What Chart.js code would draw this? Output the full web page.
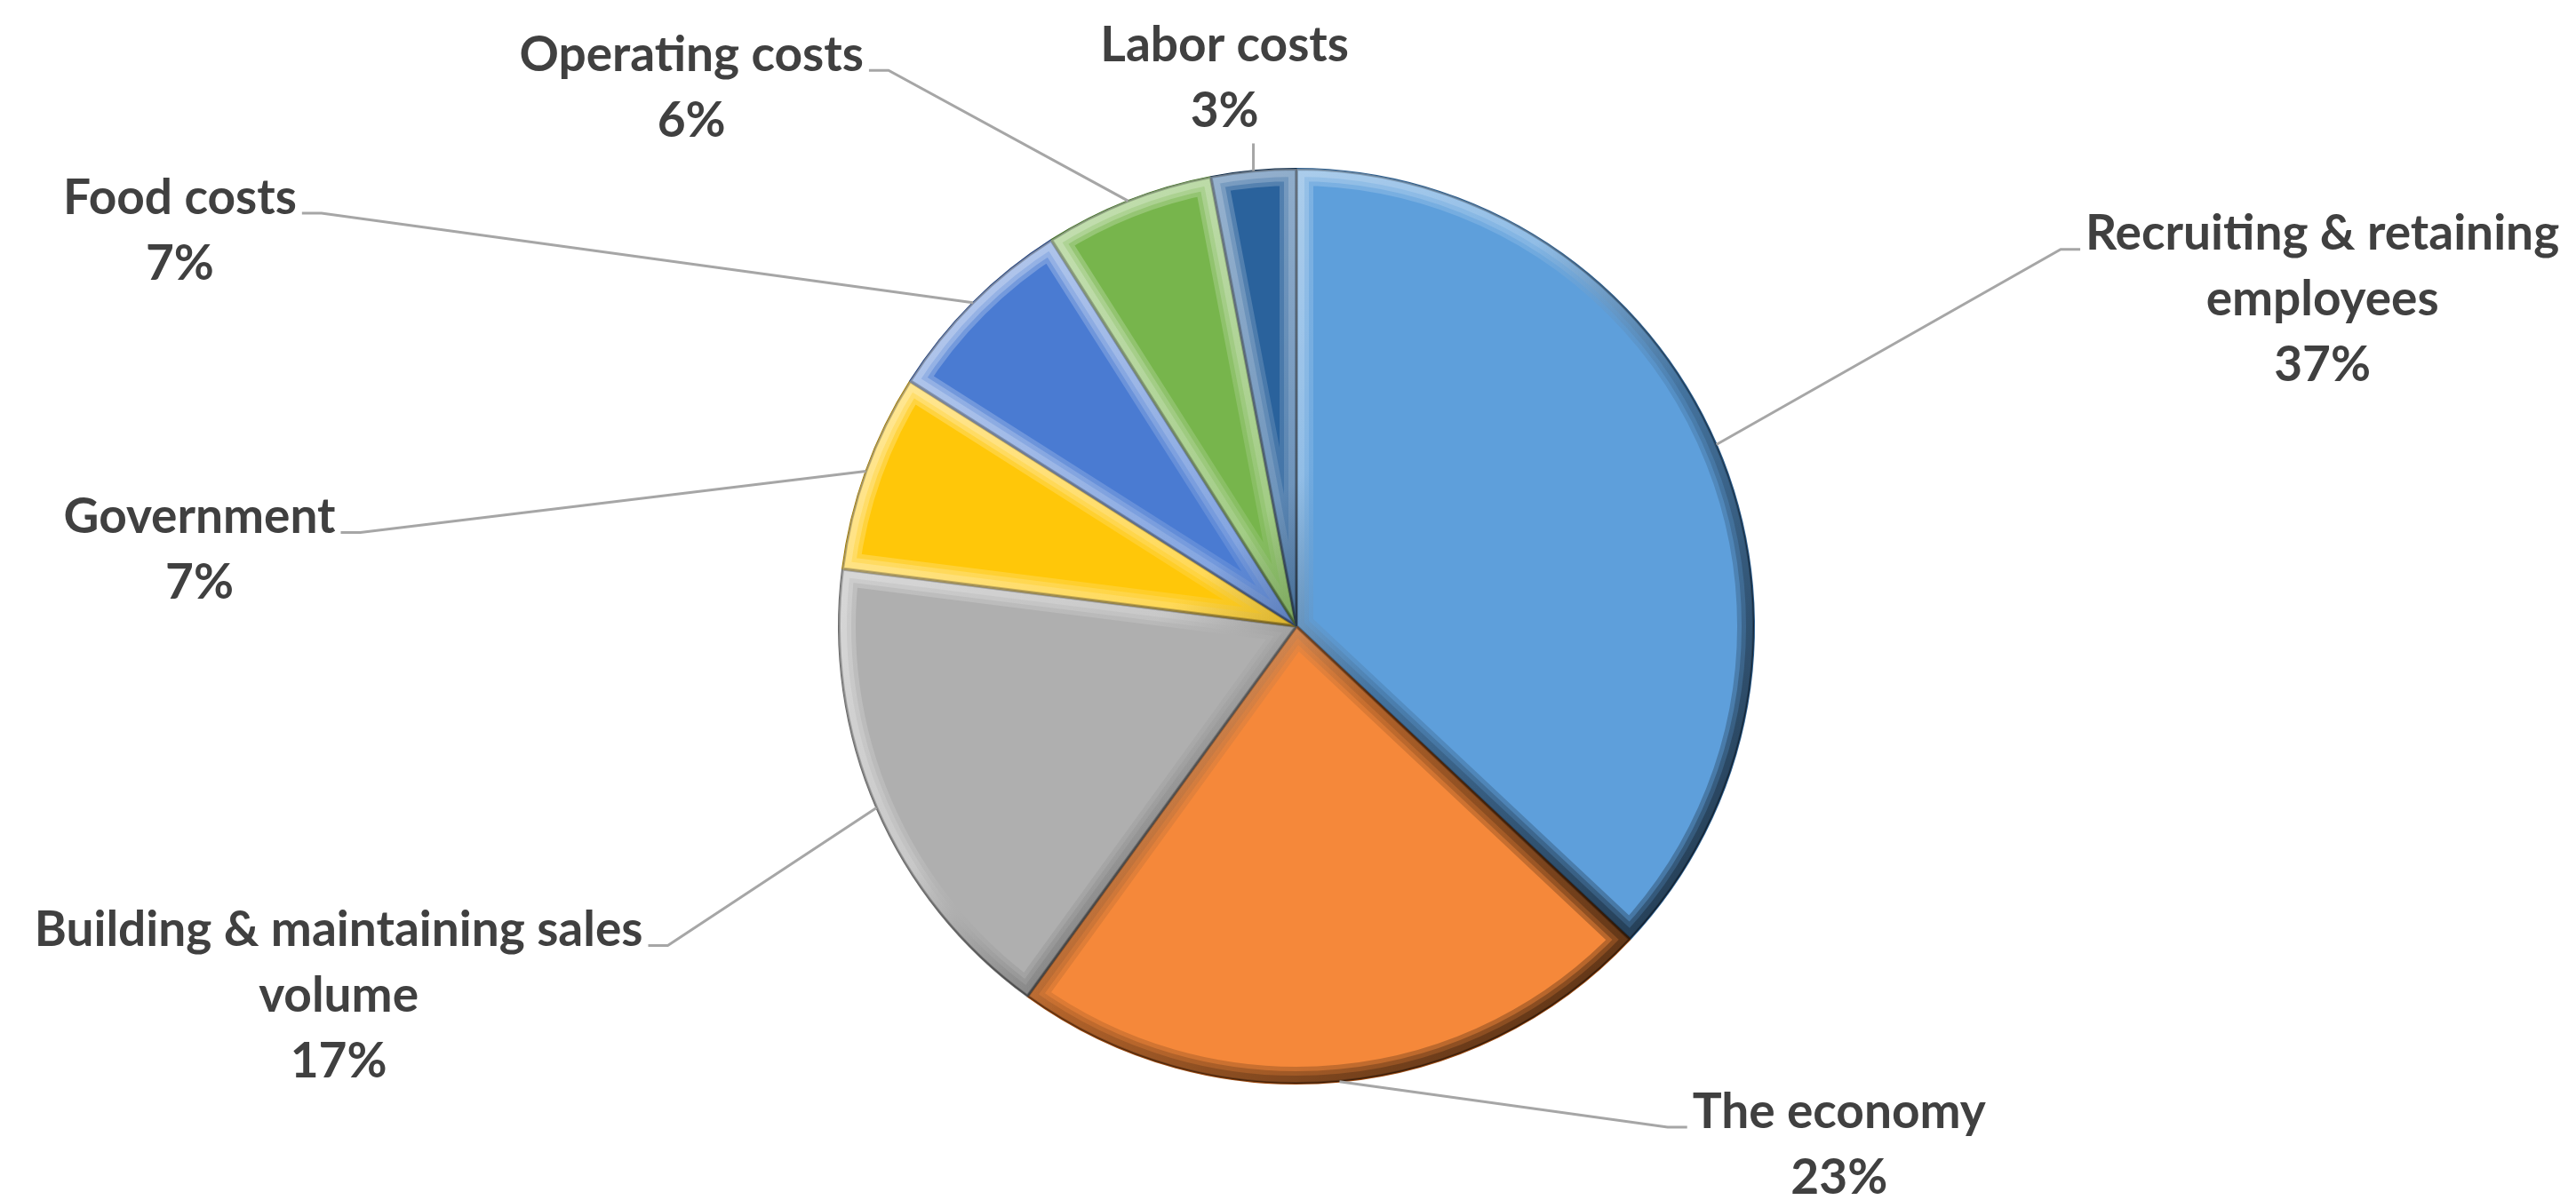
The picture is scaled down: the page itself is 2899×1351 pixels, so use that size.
<!DOCTYPE html>
<html>
<head>
<meta charset="utf-8">
<script src="https://cdn.jsdelivr.net/npm/chart.js@4.4.1/dist/chart.umd.min.js"></script>
<style>
  html, body { margin: 0; padding: 0; background: #ffffff; }
  canvas { display: block; }
</style>
</head>
<body>
<canvas id="graficoPizza" width="2899" height="1351"></canvas>
<script>
// Categorias e percentuais (sentido horário a partir do topo)
const categorias = ['Recruiting & retaining employees', 'The economy', 'Building & maintaining sales volume',
  'Government', 'Food costs', 'Operating costs', 'Labor costs'];
const linhasRotulo = [
  ['Recruiting & retaining', 'employees'],
  ['The economy'],
  ['Building & maintaining sales', 'volume'],
  ['Government'],
  ['Food costs'],
  ['Operating costs'],
  ['Labor costs']
];
const percentuais = [37, 23, 17, 7, 7, 6, 3];

const cores = ['#5E9FDB', '#F5883A', '#AFAFAF', '#FFC709', '#4A7BD2', '#77B54C', '#2A629C'];
const bordas = ['#2E5F8E', '#9A4A12', '#6A6A6A', '#A07A00', '#23427E', '#3F6E22', '#0E2B4A'];

// posição de cada rótulo em relação ao centro, em raios
const posRotulos = [[2.242, -0.857], [1.186, 1.062], [-2.093, 0.665], [-2.397, -0.238],
  [-2.44, -0.936], [-1.322, -1.248], [-0.157, -1.269]];

const fonteRotulo = 'bold 55px Lato, "Open Sans", sans-serif';
const alturaLinha = 74;

// efeito de chanfro em cada fatia
const chanfro = {
  id: 'chanfro',
  afterDatasetsDraw(chart) {
    const ctx = chart.ctx;
    const arcos = chart.getDatasetMeta(0).data;
    arcos.forEach((arco) => {
      const { x, y, outerRadius, startAngle, endAngle } = arco.getProps(['x', 'y', 'outerRadius', 'startAngle', 'endAngle']);
      ctx.save();
      ctx.beginPath();
      ctx.moveTo(x, y);
      ctx.arc(x, y, outerRadius, startAngle, endAngle);
      ctx.closePath();
      ctx.clip();
      const grad = ctx.createLinearGradient(x - outerRadius, y - outerRadius, x + outerRadius, y + outerRadius);
      grad.addColorStop(0, 'rgba(255,255,255,0.30)');
      grad.addColorStop(0.42, 'rgba(255,255,255,0.12)');
      grad.addColorStop(0.58, 'rgba(0,0,0,0.10)');
      grad.addColorStop(1, 'rgba(0,0,0,0.34)');
      ctx.strokeStyle = grad;
      ctx.lineJoin = 'round';
      [38, 28, 18].forEach((w) => {
        ctx.lineWidth = w;
        ctx.stroke();
      });
      ctx.lineWidth = 4;
      ctx.strokeStyle = 'rgba(0,0,0,0.22)';
      ctx.stroke();
      ctx.restore();
    });
  }
};

// rótulos com linhas de chamada
const rotulos = {
  id: 'rotulos',
  afterDraw(chart) {
    const ctx = chart.ctx;
    const arcos = chart.getDatasetMeta(0).data;
    ctx.save();
    ctx.font = fonteRotulo;
    ctx.textAlign = 'center';
    ctx.textBaseline = 'middle';
    arcos.forEach((arco, i) => {
      const { x, y, outerRadius, startAngle, endAngle } = arco.getProps(['x', 'y', 'outerRadius', 'startAngle', 'endAngle']);
      const meio = (startAngle + endAngle) / 2;
      const ax = x + Math.cos(meio) * outerRadius;
      const ay = y + Math.sin(meio) * outerRadius;
      const lx = x + posRotulos[i][0] * outerRadius;
      const ly = y + posRotulos[i][1] * outerRadius;
      const linhas = linhasRotulo[i].concat([percentuais[i] + '%']);
      const largura = Math.max(...linhasRotulo[i].map((t) => ctx.measureText(t).width));

      ctx.strokeStyle = '#A6A6A6';
      ctx.lineWidth = 3;
      ctx.beginPath();
      if (Math.abs(lx - ax) < 0.3 * outerRadius) {
        const fundo = ly + (linhas.length - 1) * alturaLinha + 36;
        ctx.moveTo(ax, ay);
        ctx.lineTo(ax, fundo);
      } else {
        const direita = lx > ax;
        const ex = direita ? lx - largura / 2 - 6 : lx + largura / 2 + 6;
        const ey = ly + 17;
        const kx = direita ? ex - 22 : ex + 22;
        ctx.moveTo(ax, ay);
        ctx.lineTo(kx, ey);
        ctx.lineTo(ex, ey);
      }
      ctx.stroke();

      ctx.fillStyle = '#404040';
      linhas.forEach((t, k) => ctx.fillText(t, lx, ly + k * alturaLinha));
    });
    ctx.restore();
  }
};

const ctx = document.getElementById('graficoPizza');
new Chart(ctx, {
  type: 'pie',
  data: {
    labels: categorias,
    datasets: [{
      data: percentuais,
      backgroundColor: cores,
      borderColor: bordas,
      borderWidth: 2,
      hoverOffset: 0,
      offset: 0
    }]
  },
  options: {
    responsive: false,
    animation: false,
    devicePixelRatio: 1,
    layout: { padding: { left: 943, right: 924, top: 189, bottom: 130 } },
    plugins: {
      legend: { display: false },
      tooltip: { enabled: false }
    }
  },
  plugins: [chanfro, rotulos]
});
</script>
</body>
</html>
